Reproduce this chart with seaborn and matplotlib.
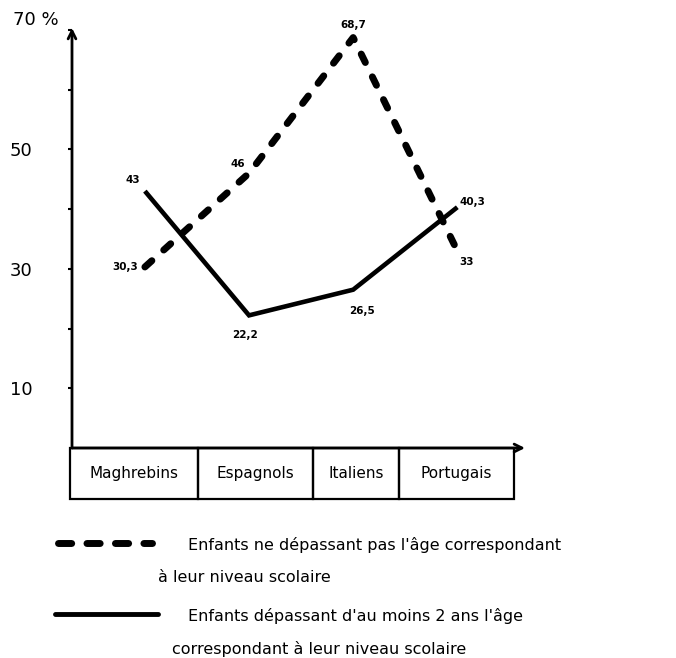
import matplotlib
matplotlib.use("Agg")
import matplotlib.pyplot as plt
from matplotlib.patches import Rectangle
from matplotlib.lines import Line2D
import seaborn as sns
import pandas as pd

# --- données ---
pays = ["Maghrebins", "Espagnols", "Italiens", "Portugais"]
ne_depassant_pas = [30.3, 46, 68.7, 33]
depassant_2ans = [43, 22.2, 26.5, 40.3]
etiq_pas = ["30,3", "46", "68,7", "33"]
etiq_2ans = ["43", "22,2", "26,5", "40,3"]
yticks = [10, 20, 30, 40, 50, 60, 70]
ytick_labels = ["10", "", "30", "", "50", "", ""]
label_70 = "70 %"
leg_pas = ["Enfants ne dépassant pas l'âge correspondant", "à leur niveau scolaire"]
leg_2ans = ["Enfants dépassant d'au moins 2 ans l'âge", "correspondant à leur niveau scolaire"]

df_pas = pd.DataFrame({"pays": pays, "valeur": ne_depassant_pas})
df_2ans = pd.DataFrame({"pays": pays, "valeur": depassant_2ans})

sns.set_theme(style="white")
plt.rcParams["font.family"] = ["DejaVu Sans"]
plt.rcParams["text.color"] = "black"

W, H = 676, 658
fig = plt.figure(figsize=(W / 100, H / 100), dpi=100)
ax = fig.add_axes([72 / W, 1 - 448 / H, (525 - 72) / W, (448 - 28) / H])

dash_style = (0, (1.35, 2.3))
sns.lineplot(data=df_pas, x="pays", y="valeur", ax=ax, color="black", lw=5,
             linestyle=dash_style, dash_capstyle="round", sort=False)
sns.lineplot(data=df_2ans, x="pays", y="valeur", ax=ax, color="black", lw=3.3,
             solid_capstyle="butt", solid_joinstyle="miter", sort=False)

ax.set_xlim(-0.70, 3.65)
ax.set_ylim(0, 70.3)
ax.set_xlabel("")
ax.set_ylabel("")
for s in ax.spines.values():
    s.set_visible(False)

# axes fléchés
arrow = dict(arrowstyle="->", lw=2, color="black", shrinkA=0, shrinkB=0, mutation_scale=14)
ax.annotate("", xy=(1, 0), xytext=(0, 0), xycoords="axes fraction", arrowprops=arrow)
ax.annotate("", xy=(0, 1), xytext=(0, 0), xycoords="axes fraction", arrowprops=arrow)

# graduations
ax.set_xticks([])
ax.set_yticks(yticks, ytick_labels)
ax.tick_params(axis="y", left=True, length=3, width=1.5, color="black",
               labelsize=13, labelcolor="black", pad=42)
for lbl in ax.get_yticklabels():
    lbl.set_ha("left")
fig.text(13 / W, 1 - 20 / H, label_70, ha="left", va="center", fontsize=13)

# étiquettes des valeurs
off_pas = [(-5, 0, "right"), (-8, 6.5, "center"), (0, 9, "center"), (7, -8, "center")]
off_2ans = [(-9, 8, "center"), (-3, -14, "center"), (6.5, -15, "center"), (11, 4, "center")]
for i, (v, t) in enumerate(zip(ne_depassant_pas, etiq_pas)):
    dx, dy, ha = off_pas[i]
    ax.annotate(t, xy=(i, v), xytext=(dx, dy), textcoords="offset points",
                ha=ha, va="center", fontsize=7.5, fontweight="bold", color="black")
for i, (v, t) in enumerate(zip(depassant_2ans, etiq_2ans)):
    dx, dy, ha = off_2ans[i]
    ax.annotate(t, xy=(i, v), xytext=(dx, dy), textcoords="offset points",
                ha=ha, va="center", fontsize=7.5, fontweight="bold", color="black")

# cases des pays sous l'axe
bords = [-0.72, 0.51, 1.61, 2.44, 3.54]
bas = -8.5
for i in range(len(pays)):
    a, b = bords[i], bords[i + 1]
    ax.add_patch(Rectangle((a, bas), b - a, -bas, fill=False, lw=1.6,
                           edgecolor="black", clip_on=False))
    ax.text((a + b) / 2, bas / 2, pays[i], ha="center", va="center",
            fontsize=11, color="black", clip_on=False)

# légende
fig.add_artist(Line2D([58 / W, 152 / W], [1 - 543 / H] * 2, lw=5, color="black",
                      linestyle=(0, (1.9, 2.2)), dash_capstyle="round"))
fig.add_artist(Line2D([55 / W, 158 / W], [1 - 614 / H] * 2, lw=3.5, color="black"))
fig.text(188 / W, 1 - 545 / H, leg_pas[0], ha="left", va="center", fontsize=11.5)
fig.text(158 / W, 1 - 577 / H, leg_pas[1], ha="left", va="center", fontsize=11.5)
fig.text(188 / W, 1 - 616 / H, leg_2ans[0], ha="left", va="center", fontsize=11.5)
fig.text(172 / W, 1 - 649 / H, leg_2ans[1], ha="left", va="center", fontsize=11.5)

fig.savefig("out.png", dpi=100, facecolor="white")
